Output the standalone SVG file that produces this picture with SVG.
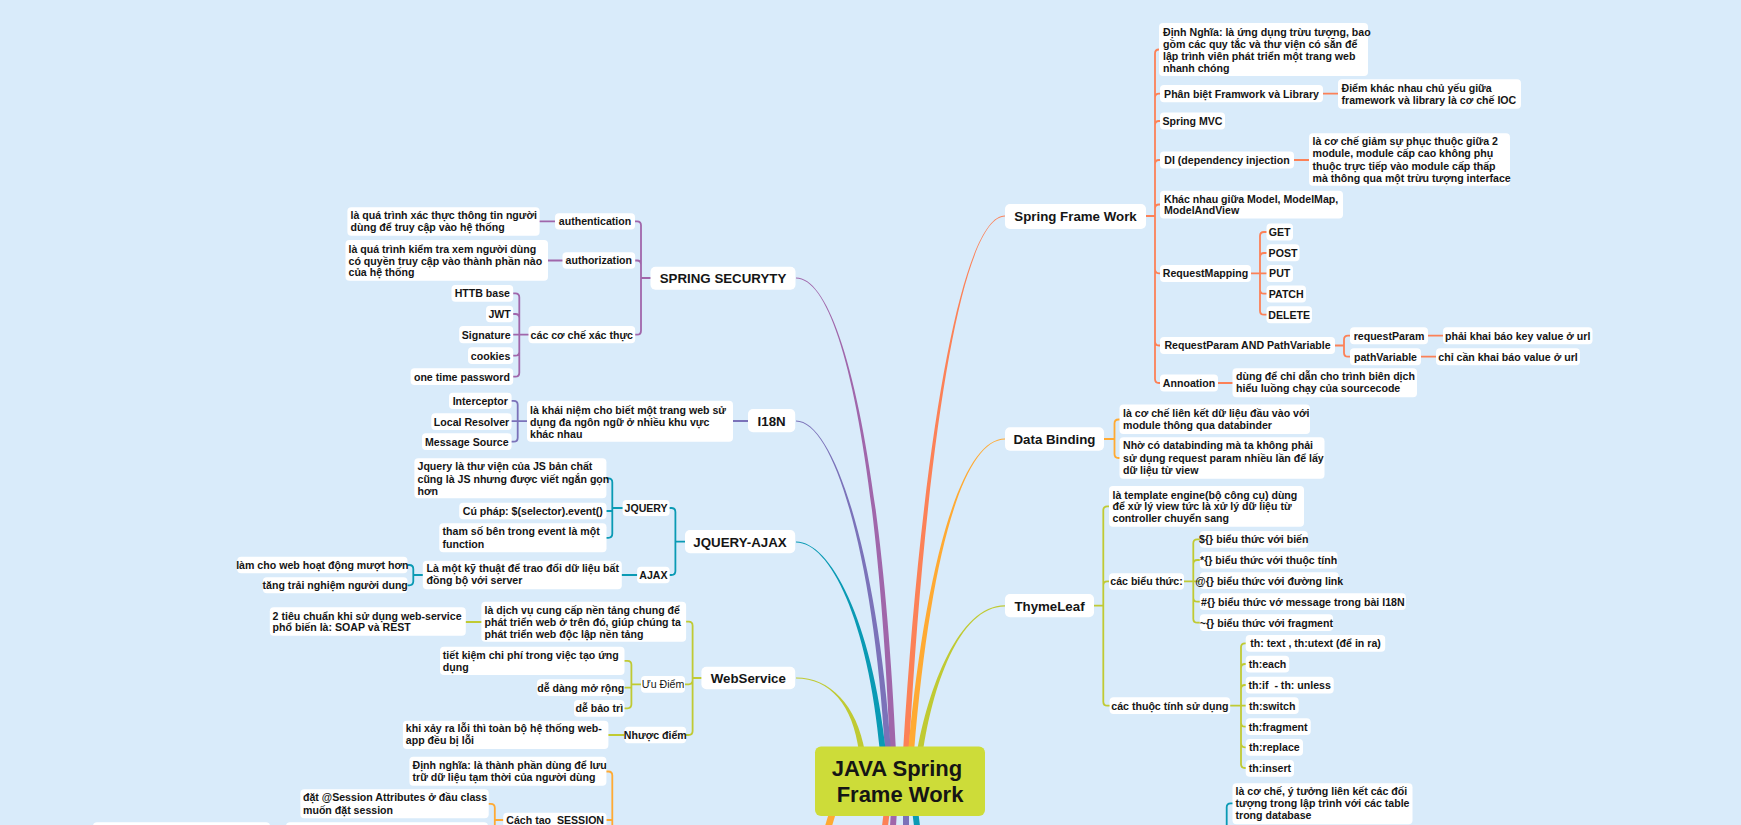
<svg xmlns="http://www.w3.org/2000/svg" width="1741" height="825" viewBox="0 0 1741 825">
<style>
.bg{fill:#D9EBFA}
.box{fill:#FFFFFF}
text{font-family:"Liberation Sans","Noto Sans",Arial,sans-serif;font-weight:bold;fill:#151515}
.t{font-size:10.6px}
.m{font-size:13.3px}
.r{font-size:22px}
.c{text-anchor:middle}
.nw{font-weight:normal}
.lk{fill:none;stroke-width:1.8;stroke-linecap:round;stroke-linejoin:round}
.coral{stroke:#FC8157}.orange{stroke:#FFAA33}.olive{stroke:#C0CA33}.purple{stroke:#A066AA}.bp{stroke:#7B72B9}.teal{stroke:#0A9AB4}
</style>
<rect class="bg" x="0" y="0" width="1741" height="825"/>

<g id="connectors">
  <path fill="#FC8157" d="M903,752 C922,440 962,215.4 1005,215.4 L1005,216.6 C962,216.6 926,440 909,752 Z"/>
  <path fill="#FFAA33" d="M908,752 C926,560 962,438.4 1005,438.4 L1005,439.6 C962,439.6 930,560 914,752 Z"/>
  <path fill="#C0CA33" d="M917,752 C928,690 958,605.2 1005,605.2 L1005,606.4 C958,606.4 932,690 923,752 Z"/>
  <path fill="#A066AA" d="M890,752 C878,450 840,278.6 796,278.6 L796,277.4 C840,277.4 882,450 896,752 Z"/>
  <path fill="#7B72B9" d="M885,752 C874,560 835,421.6 796,421.6 L796,420.4 C835,420.4 878,560 891,752 Z"/>
  <path fill="#0A9AB4" d="M880,752 C868,620 830,542.6 796,542.6 L796,541.4 C830,541.4 872,620 886,752 Z"/>
  <path fill="#C0CA33" d="M859,752 C853,705 830,678.6 796,678.6 L796,677.4 C830,677.4 857,705 865,752 Z"/>
  <path fill="#FFAA33" d="M833,800 L840,800 L832,826 L825,826 Z"/>
  <path fill="#FC8157" d="M884,810 L890,810 L888,826 L882,826 Z"/>
  <path fill="#A066AA" d="M891,810 L897,810 L896,826 L890,826 Z"/>
  <path fill="#7B72B9" d="M903,810 L909,810 L909,826 L903,826 Z"/>
  <path fill="#0A9AB4" d="M912,810 L918,810 L920,826 L914,826 Z"/>

  <path class="lk coral" d="M1146,216H1155V53.5Q1155,49.5 1159,49.5H1161 M1155,216V97.7Q1155,93.7 1159,93.7H1161 M1155,216V125Q1155,121 1159,121H1161 M1155,216V164Q1155,160 1159,160H1161 M1155,216V208.5Q1155,204.5 1159,204.5H1161 M1155,216V269.3Q1155,273.3 1159,273.3H1161 M1155,216V341.5Q1155,345.5 1159,345.5H1161 M1155,216V379Q1155,383 1159,383H1161"/>
  <path class="lk coral" d="M1323,93.7H1338 M1294,160H1309 M1218,383H1232.5 M1428,335.7H1443 M1421,356.7H1436"/>
  <path class="lk coral" d="M1251,273.3H1260V236Q1260,232 1264,232H1267 M1260,273.3V257Q1260,253 1264,253H1267 M1260,273.3H1267 M1260,273.3V289.7Q1260,293.7 1264,293.7H1267 M1260,273.3V310.7Q1260,314.7 1264,314.7H1267"/>
  <path class="lk coral" d="M1335,345.5H1344V339.7Q1344,335.7 1348,335.7H1350 M1344,345.5V352.7Q1344,356.7 1348,356.7H1350"/>
  <path class="lk orange" d="M1104,439H1114.5V423.5Q1114.5,419.5 1118.5,419.5H1120 M1114.5,439V454Q1114.5,458 1118.5,458H1120"/>
  <path class="lk olive" d="M1094,605.7H1103.3V510.3Q1103.3,506.3 1107.3,506.3H1109.5 M1103.3,605.7V585.3Q1103.3,581.3 1107.3,581.3H1109.5 M1103.3,605.7V701.7Q1103.3,705.7 1107.3,705.7H1109.5"/>
  <path class="lk olive" d="M1184,581.3H1193.3V543.3Q1193.3,539.3 1197.3,539.3H1200 M1193.3,581.3V564Q1193.3,560 1197.3,560H1200 M1193.3,581.3H1200 M1193.3,581.3V597.7Q1193.3,601.7 1197.3,601.7H1200 M1193.3,581.3V618.7Q1193.3,622.7 1197.3,622.7H1200"/>
  <path class="lk olive" d="M1230.2,705.7H1241V647.3Q1241,643.3 1245,643.3H1246 M1241,705.7V668Q1241,664 1245,664H1246 M1241,705.7V689Q1241,685 1245,685H1246 M1241,705.7H1246 M1241,705.7V722.7Q1241,726.7 1245,726.7H1246 M1241,705.7V743.3Q1241,747.3 1245,747.3H1246 M1241,705.7V764Q1241,768 1245,768H1246"/>
  <path class="lk teal" d="M1226.7,830V807.3Q1226.7,803.3 1230.7,803.3H1233"/>
  <path class="lk purple" d="M650.5,278H641V225.3Q641,221.3 637,221.3H635 M641,278V264.5Q641,260.5 637,260.5H635 M641,278V330.7Q641,334.7 637,334.7H635"/>
  <path class="lk purple" d="M555,221.3H539.6 M562.5,260.5H548"/>
  <path class="lk purple" d="M528.5,334.7H519.3V297.3Q519.3,293.3 515.3,293.3H513 M519.3,334.7V318Q519.3,314 515.3,314H513 M519.3,334.7H513 M519.3,334.7V351.7Q519.3,355.7 515.3,355.7H513 M519.3,334.7V372.7Q519.3,376.7 515.3,376.7H513"/>
  <path class="lk bp" d="M748,421H733 M527,421.2H517.7V404.8Q517.7,400.8 513.7,400.8H511.5 M517.7,421.2H511.5 M517.7,421.2V437.7Q517.7,441.7 513.7,441.7H511.5"/>
  <path class="lk teal" d="M685,541.7H675.4V512Q675.4,508 671.4,508H669.5 M675.4,541.7V571Q675.4,575 671.4,575H669.5"/>
  <path class="lk teal" d="M622.6,508H612.3V482.3Q612.3,478.3 608.3,478.3H606.5 M612.3,508V511H606.5 M612.3,508V533.8Q612.3,537.8 608.3,537.8H606.5"/>
  <path class="lk teal" d="M637.1,575H621.8 M422.8,575H413.3V569Q413.3,565 409.3,565H407.5 M413.3,575V581.3Q413.3,585.3 409.3,585.3H407.5"/>
  <path class="lk olive" d="M701.4,678H692.6V625.7Q692.6,621.7 688.6,621.7H686 M692.6,678V680.3Q692.6,684.3 688.6,684.3H685 M692.6,678V731Q692.6,735 688.6,735H686"/>
  <path class="lk olive" d="M481.4,622H465.7 M624.5,735H608.4"/>
  <path class="lk olive" d="M641,684.3H631.4V664.8Q631.4,660.8 627.4,660.8H624.5 M631.4,684.3V687.7H624.5 M631.4,684.3V704.3Q631.4,708.3 627.4,708.3H624.5"/>
  <path class="lk orange" d="M606.5,771.5H608.3Q612.3,771.5 612.3,775.5V830 M606.5,820H612.3"/>
  <path class="lk orange" d="M488.7,803.8H490.8Q494.8,803.8 494.8,807.8V830 M503.2,820H494.8"/>
</g>

<g id="root">
  <rect x="815" y="746.5" width="170" height="69.5" rx="6" fill="#CDDC39"/>
  <text class="r c" x="897" y="776">JAVA Spring</text>
  <text class="r c" x="900" y="802">Frame Work</text>
</g>

<g id="spring-frame-work"><rect class="box" x="1005" y="204" width="141" height="25" rx="5"/><text class="m c" x="1075.5" y="221">Spring Frame Work</text></g>
<g id="sfw-dinh-nghia"><rect class="box" x="1159" y="23" width="209" height="53" rx="4"/><text class="t"><tspan x="1163" y="35.8">Định Nghĩa: là ứng dụng trừu tượng, bao</tspan><tspan x="1163" y="47.7">gồm các quy tắc và thư viện có sẵn để</tspan><tspan x="1163" y="59.6">lập trình viên phát triển một trang web</tspan><tspan x="1163" y="71.5">nhanh chóng</tspan></text></g>
<g id="sfw-phan-biet"><rect class="box" x="1160" y="85" width="163" height="17.3" rx="4"/><text class="t c" x="1241.5" y="97.5">Phân biệt Framwork và Library</text></g>
<g id="sfw-ioc"><rect class="box" x="1338" y="79.3" width="183" height="29.4" rx="4"/><text class="t"><tspan x="1341.5" y="91.8">Điểm khác nhau chủ yếu giữa</tspan><tspan x="1341.5" y="104.1">framework và library là cơ chế IOC</tspan></text></g>
<g id="sfw-mvc"><rect class="box" x="1160" y="112.5" width="65" height="17" rx="4"/><text class="t c" x="1192.5" y="124.8">Spring MVC</text></g>
<g id="sfw-di"><rect class="box" x="1160" y="151.5" width="134" height="17" rx="4"/><text class="t c" x="1227" y="163.8">DI (dependency injection</text></g>
<g id="sfw-di-desc"><rect class="box" x="1309" y="133.3" width="201" height="52.5" rx="4"/><text class="t"><tspan x="1312.5" y="145.2">là cơ chế giảm sự phục thuộc giữa 2</tspan><tspan x="1312.5" y="157.4">module, module cấp cao không phụ</tspan><tspan x="1312.5" y="169.5">thuộc trực tiếp vào module cấp thấp</tspan><tspan x="1312.5" y="181.7">mà thông qua một trừu tượng interface</tspan></text></g>
<g id="sfw-model"><rect class="box" x="1160" y="190.7" width="183" height="27.8" rx="4"/><text class="t"><tspan x="1164" y="202.5">Khác nhau giữa Model, ModelMap,</tspan><tspan x="1164" y="214.3">ModelAndView</tspan></text></g>
<g id="sfw-requestmapping"><rect class="box" x="1160" y="265" width="91" height="17" rx="4"/><text class="t c" x="1205.5" y="277.3">RequestMapping</text></g>
<g id="rm-get"><rect class="box" x="1266.5" y="223.5" width="26.5" height="17" rx="4"/><text class="t c" x="1279.7" y="235.8">GET</text></g>
<g id="rm-post"><rect class="box" x="1266.5" y="244.3" width="33" height="17" rx="4"/><text class="t c" x="1283" y="256.6">POST</text></g>
<g id="rm-put"><rect class="box" x="1266.5" y="265" width="26.5" height="17" rx="4"/><text class="t c" x="1279.7" y="277.3">PUT</text></g>
<g id="rm-patch"><rect class="box" x="1266.5" y="285.5" width="39.5" height="17" rx="4"/><text class="t c" x="1286.2" y="297.8">PATCH</text></g>
<g id="rm-delete"><rect class="box" x="1266.5" y="306.2" width="45.5" height="17" rx="4"/><text class="t c" x="1289.2" y="318.5">DELETE</text></g>
<g id="sfw-requestparam"><rect class="box" x="1160" y="337" width="175" height="17" rx="4"/><text class="t c" x="1247.5" y="349.3">RequestParam AND PathVariable</text></g>
<g id="rp-requestparam"><rect class="box" x="1350" y="327.3" width="78" height="17" rx="4"/><text class="t c" x="1389" y="339.6">requestParam</text></g>
<g id="rp-requestparam-desc"><rect class="box" x="1443" y="327.3" width="149.5" height="17" rx="4"/><text class="t c" x="1517.7" y="339.6">phải khai báo key value ở url</text></g>
<g id="rp-pathvariable"><rect class="box" x="1350" y="348.3" width="71" height="17" rx="4"/><text class="t c" x="1385.5" y="360.6">pathVariable</text></g>
<g id="rp-pathvariable-desc"><rect class="box" x="1436" y="348.3" width="144" height="17" rx="4"/><text class="t c" x="1508" y="360.6">chỉ cần khai báo value ở url</text></g>
<g id="sfw-annoation"><rect class="box" x="1160" y="374.5" width="58" height="17" rx="4"/><text class="t c" x="1189" y="386.8">Annoation</text></g>
<g id="sfw-annoation-desc"><rect class="box" x="1232.5" y="368.3" width="184.5" height="29" rx="4"/><text class="t"><tspan x="1236" y="379.6">dùng để chỉ dẫn cho trình biên dịch</tspan><tspan x="1236" y="391.9">hiểu luồng chạy của sourcecode</tspan></text></g>

<g id="data-binding"><rect class="box" x="1005" y="427.3" width="99" height="23.4" rx="5"/><text class="m c" x="1054.5" y="443.8">Data Binding</text></g>
<g id="db-1"><rect class="box" x="1119.5" y="404.5" width="190.5" height="29.5" rx="4"/><text class="t"><tspan x="1123" y="416.8">là cơ chế liên kết dữ liệu đầu vào với</tspan><tspan x="1123" y="429.1">module thông qua databinder</tspan></text></g>
<g id="db-2"><rect class="box" x="1119.5" y="437.3" width="205" height="41.4" rx="4"/><text class="t"><tspan x="1123" y="449.2">Nhờ có databinding mà ta không phải</tspan><tspan x="1123" y="461.7">sử dụng request param nhiều lần để lấy</tspan><tspan x="1123" y="474.2">dữ liệu từ view</tspan></text></g>

<g id="thymeleaf"><rect class="box" x="1005" y="594" width="89" height="23.3" rx="5"/><text class="m c" x="1049.5" y="610.5">ThymeLeaf</text></g>
<g id="tl-def"><rect class="box" x="1109" y="486" width="195" height="40.7" rx="4"/><text class="t"><tspan x="1112.5" y="498.5">là template engine(bộ công cụ) dùng</tspan><tspan x="1112.5" y="510.4">để xử lý view tức là xử lý dữ liệu từ</tspan><tspan x="1112.5" y="522.4">controller chuyển sang</tspan></text></g>
<g id="tl-bieu-thuc"><rect class="box" x="1109" y="573.3" width="75" height="16.5" rx="4"/><text class="t c" x="1146.5" y="585.3">các biểu thức:</text></g>
<g id="bt-1"><rect class="box" x="1199.8" y="531" width="108" height="16.7" rx="4"/><text class="t c" x="1253.8" y="543.2">${} biểu thức với biến</text></g>
<g id="bt-2"><rect class="box" x="1199.8" y="551.7" width="137.7" height="16.7" rx="4"/><text class="t c" x="1268.6" y="563.9">*{} biểu thức với thuộc tính</text></g>
<g id="bt-3"><rect class="box" x="1199.8" y="572.3" width="139" height="16.7" rx="4"/><text class="t c" x="1269.3" y="584.5">@{} biểu thức với đường link</text></g>
<g id="bt-4"><rect class="box" x="1199.8" y="593.3" width="206" height="16.7" rx="4"/><text class="t c" x="1302.8" y="605.5">#{} biểu thức vớ message trong bài I18N</text></g>
<g id="bt-5"><rect class="box" x="1199.8" y="614.3" width="133.2" height="16.7" rx="4"/><text class="t c" x="1266.4" y="626.5">~{} biểu thức với fragment</text></g>
<g id="tl-thuoc-tinh"><rect class="box" x="1109.6" y="697.3" width="120.6" height="16.7" rx="4"/><text class="t c" x="1169.9" y="709.5">các thuộc tính sử dụng</text></g>
<g id="tt-1"><rect class="box" x="1245.7" y="635" width="139.5" height="16.7" rx="4"/><text class="t c" x="1315.5" y="647.2">th: text , th:utext (để in ra)</text></g>
<g id="tt-2"><rect class="box" x="1245.7" y="655.7" width="43.5" height="16.7" rx="4"/><text class="t c" x="1267.5" y="668">th:each</text></g>
<g id="tt-3"><rect class="box" x="1245.7" y="676.7" width="88" height="16.7" rx="4"/><text class="t c" x="1289.7" y="688.9" xml:space="preserve">th:if  - th: unless</text></g>
<g id="tt-4"><rect class="box" x="1245.7" y="697.3" width="53" height="16.7" rx="4"/><text class="t c" x="1272.2" y="709.5">th:switch</text></g>
<g id="tt-5"><rect class="box" x="1245.7" y="718.3" width="65" height="16.7" rx="4"/><text class="t c" x="1278.2" y="730.5">th:fragment</text></g>
<g id="tt-6"><rect class="box" x="1245.7" y="739" width="57.3" height="16.7" rx="4"/><text class="t c" x="1274.4" y="751.2">th:replace</text></g>
<g id="tt-7"><rect class="box" x="1245.7" y="760" width="48.3" height="16.7" rx="4"/><text class="t c" x="1269.9" y="772">th:insert</text></g>

<g id="orm-def"><rect class="box" x="1232.5" y="783.3" width="180" height="41" rx="4"/><text class="t"><tspan x="1235.5" y="795.2">là cơ chế, ý tưởng liên kết các đối</tspan><tspan x="1235.5" y="807.2">tượng trong lập trình với các table</tspan><tspan x="1235.5" y="819.2">trong database</tspan></text></g>

<g id="spring-security"><rect class="box" x="650.5" y="266.7" width="145" height="23" rx="5"/><text class="m c" x="723" y="282.6">SPRING SECURYTY</text></g>
<g id="ss-authentication"><rect class="box" x="555" y="213.3" width="80" height="16.3" rx="4"/><text class="t c" x="595" y="225.2">authentication</text></g>
<g id="ss-authentication-desc"><rect class="box" x="347.4" y="207.3" width="192.2" height="28.4" rx="4"/><text class="t"><tspan x="350.5" y="219.2">là quá trình xác thực thông tin người</tspan><tspan x="350.5" y="231.2">dùng để truy cập vào hệ thống</tspan></text></g>
<g id="ss-authorization"><rect class="box" x="562.5" y="252.3" width="72.7" height="16.4" rx="4"/><text class="t c" x="598.8" y="264.3">authorization</text></g>
<g id="ss-authorization-desc"><rect class="box" x="345.5" y="240" width="202.5" height="40.7" rx="4"/><text class="t"><tspan x="348.5" y="252.8">là quá trình kiểm tra xem người dùng</tspan><tspan x="348.5" y="264.5">có quyền truy cập vào thành phần nào</tspan><tspan x="348.5" y="276.2">của hệ thống</tspan></text></g>
<g id="ss-co-che"><rect class="box" x="528.5" y="326" width="106.7" height="17.3" rx="4"/><text class="t c" x="581.8" y="338.5">các cơ chế xác thực</text></g>
<g id="cc-httb"><rect class="box" x="451.5" y="285" width="61.7" height="16.7" rx="4"/><text class="t c" x="482.3" y="297.2">HTTB base</text></g>
<g id="cc-jwt"><rect class="box" x="486" y="305.7" width="27.2" height="16.6" rx="4"/><text class="t c" x="499.6" y="317.8">JWT</text></g>
<g id="cc-signature"><rect class="box" x="459.2" y="326" width="54" height="17.3" rx="4"/><text class="t c" x="486.2" y="338.5">Signature</text></g>
<g id="cc-cookies"><rect class="box" x="468" y="347.3" width="45.2" height="16.7" rx="4"/><text class="t c" x="490.6" y="359.5">cookies</text></g>
<g id="cc-otp"><rect class="box" x="410.6" y="368.3" width="102.6" height="16.7" rx="4"/><text class="t c" x="461.9" y="380.5">one time password</text></g>

<g id="i18n"><rect class="box" x="748" y="409" width="47.2" height="23.3" rx="5"/><text class="m c" x="771.6" y="425.5">I18N</text></g>
<g id="i18n-def"><rect class="box" x="527" y="400.7" width="206" height="41" rx="4"/><text class="t"><tspan x="530" y="413.5">là khái niệm cho biết một trang web sử</tspan><tspan x="530" y="425.7">dụng đa ngôn ngữ ở nhiều khu vực</tspan><tspan x="530" y="437.7">khác nhau</tspan></text></g>
<g id="i18n-interceptor"><rect class="box" x="449" y="392.7" width="62.6" height="16.3" rx="4"/><text class="t c" x="480.3" y="404.6">Interceptor</text></g>
<g id="i18n-resolver"><rect class="box" x="431.3" y="413.3" width="80.3" height="16.7" rx="4"/><text class="t c" x="471.5" y="425.5">Local Resolver</text></g>
<g id="i18n-message"><rect class="box" x="422" y="433.3" width="89.6" height="16.7" rx="4"/><text class="t c" x="466.8" y="445.5">Message Source</text></g>

<g id="jquery-ajax"><rect class="box" x="685" y="530" width="110.2" height="23.3" rx="5"/><text class="m c" x="740" y="546.5">JQUERY-AJAX</text></g>
<g id="jq-jquery"><rect class="box" x="622.6" y="500" width="47" height="16" rx="4"/><text class="t c" x="646.1" y="511.8">JQUERY</text></g>
<g id="jq-1"><rect class="box" x="414.4" y="458.3" width="192" height="40" rx="4"/><text class="t"><tspan x="417.5" y="470.3">Jquery là thư viện của JS bản chất</tspan><tspan x="417.5" y="482.5">cũng là JS nhưng được viết ngắn gọn</tspan><tspan x="417.5" y="494.6">hơn</tspan></text></g>
<g id="jq-2"><rect class="box" x="459.2" y="502.7" width="147.3" height="16.6" rx="4"/><text class="t c" x="532.8" y="514.8">Cú pháp: $(selector).event()</text></g>
<g id="jq-3"><rect class="box" x="439.3" y="523.3" width="167.2" height="29" rx="4"/><text class="t"><tspan x="442.5" y="535.2">tham số bên trong event là một</tspan><tspan x="442.5" y="547.5">function</tspan></text></g>
<g id="jq-ajax"><rect class="box" x="637.1" y="566.7" width="32.6" height="16.6" rx="4"/><text class="t c" x="653.4" y="578.8">AJAX</text></g>
<g id="ajax-def"><rect class="box" x="422.8" y="560.7" width="199" height="28.6" rx="4"/><text class="t"><tspan x="426.5" y="571.8">Là một kỹ thuật để trao đổi dữ liệu bất</tspan><tspan x="426.5" y="584.2">đồng bộ với server</tspan></text></g>
<g id="ajax-1"><rect class="box" x="237.2" y="556.7" width="170.3" height="16.6" rx="4"/><text class="t c" x="322.3" y="568.8">làm cho web hoạt động mượt hơn</text></g>
<g id="ajax-2"><rect class="box" x="262.9" y="577.3" width="144.6" height="16" rx="4"/><text class="t c" x="335.2" y="589.2">tăng trải nghiệm người dung</text></g>

<g id="webservice"><rect class="box" x="701.4" y="666.7" width="93.8" height="22.6" rx="5"/><text class="m c" x="748.3" y="682.8">WebService</text></g>
<g id="ws-def"><rect class="box" x="481.4" y="601.7" width="204.7" height="40" rx="4"/><text class="t"><tspan x="484.5" y="613.5">là dịch vụ cung cấp nền tảng chung để</tspan><tspan x="484.5" y="625.7">phát triển web ở trên đó, giúp chúng ta</tspan><tspan x="484.5" y="637.6">phát triển web độc lập nền tảng</tspan></text></g>
<g id="ws-standard"><rect class="box" x="269.8" y="607.3" width="196" height="28.4" rx="4"/><text class="t"><tspan x="272.6" y="619.5">2 tiêu chuẩn khi sử dụng web-service</tspan><tspan x="272.6" y="631.2">phổ biến là: SOAP và REST</tspan></text></g>
<g id="ws-uu-diem"><rect class="box" x="641" y="676" width="44" height="16.7" rx="4"/><text class="t c nw" x="663" y="688.3">Ưu Điểm</text></g>
<g id="uu-1"><rect class="box" x="440" y="646.7" width="184.5" height="28.3" rx="4"/><text class="t"><tspan x="442.8" y="658.5">tiết kiệm chi phí trong việc tạo ứng</tspan><tspan x="442.8" y="670.8">dụng</tspan></text></g>
<g id="uu-2"><rect class="box" x="536.9" y="679.3" width="87.6" height="16.7" rx="4"/><text class="t c" x="580.7" y="691.5">dễ dàng mở rộng</text></g>
<g id="uu-3"><rect class="box" x="574" y="700" width="50.5" height="16.7" rx="4"/><text class="t c" x="599.3" y="712.2">dễ bảo trì</text></g>
<g id="ws-nhuoc-diem"><rect class="box" x="624.5" y="726.7" width="61.6" height="16.6" rx="4"/><text class="t c" x="655.3" y="738.8">Nhược điểm</text></g>
<g id="nhuoc-1"><rect class="box" x="402.9" y="720.7" width="205.5" height="28.3" rx="4"/><text class="t"><tspan x="405.8" y="731.8">khi xảy ra lỗi thì toàn bộ hệ thống web-</tspan><tspan x="405.8" y="744.2">app đều bị lỗi</tspan></text></g>

<g id="session-def"><rect class="box" x="409.4" y="756.7" width="197" height="29" rx="4"/><text class="t"><tspan x="412.5" y="769.2">Định nghĩa: là thành phần dùng để lưu</tspan><tspan x="412.5" y="781.3">trữ dữ liệu tạm thời của người dùng</tspan></text></g>
<g id="session-create"><rect class="box" x="503.2" y="812.7" width="103.3" height="20" rx="4"/><text class="t" x="506.3" y="824" xml:space="preserve">Cách tạo  SESSION</text></g>
<g id="session-attr"><rect class="box" x="300.4" y="789.3" width="188.3" height="29" rx="4"/><text class="t"><tspan x="303" y="801.2">đặt @Session Attributes ở đầu class</tspan><tspan x="303" y="813.5">muốn đặt session</tspan></text></g>
<g id="session-hidden-1"><rect class="box" x="286" y="822.3" width="202" height="10" rx="4"/></g>
<g id="session-hidden-2"><rect class="box" x="93" y="822.3" width="177" height="10" rx="4"/></g>
</svg>
